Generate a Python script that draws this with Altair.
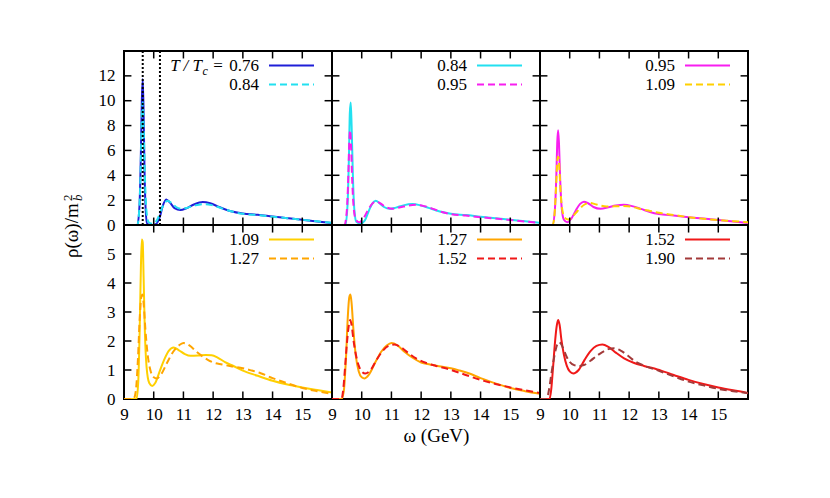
import altair as alt
import pandas as pd

FONT = "Liberation Serif"

# ---------------- data ----------------
W076 = [9.0, 9.45, 9.52, 9.57, 9.60, 9.63, 9.66, 9.69, 9.73, 9.78, 9.9, 10.05, 10.2, 10.3, 10.42, 10.55, 10.7, 10.9, 11.1, 11.35, 11.65, 11.9, 12.2, 12.6, 13.0, 13.5, 14.0, 14.5, 15.0, 15.5, 16.0]
R076 = [0, 0, 1.5, 6.0, 10.0, 11.75, 9.0, 4.5, 1.2, 0.1, 0.0, 0.05, 0.6, 1.5, 2.05, 1.8, 1.35, 1.2, 1.35, 1.65, 1.85, 1.75, 1.45, 1.1, 0.92, 0.82, 0.68, 0.55, 0.42, 0.29, 0.16]

W084 = [9.0, 9.45, 9.52, 9.57, 9.60, 9.63, 9.66, 9.70, 9.75, 9.82, 9.95, 10.1, 10.25, 10.35, 10.47, 10.6, 10.75, 10.95, 11.15, 11.4, 11.7, 11.95, 12.25, 12.6, 13.0, 13.5, 14.0, 14.5, 15.0, 15.5, 16.0]
R084 = [0, 0, 1.5, 5.5, 9.0, 9.85, 8.0, 4.2, 1.3, 0.25, 0.1, 0.35, 1.2, 1.7, 1.95, 1.75, 1.45, 1.3, 1.4, 1.58, 1.68, 1.6, 1.38, 1.1, 0.9, 0.8, 0.67, 0.55, 0.42, 0.3, 0.17]

W095 = [9.0, 9.42, 9.50, 9.55, 9.58, 9.61, 9.64, 9.68, 9.73, 9.8, 9.92, 10.05, 10.2, 10.35, 10.48, 10.62, 10.8, 11.04, 11.3, 11.55, 11.82, 12.1, 12.4, 12.7, 13.0, 13.5, 14.0, 14.5, 15.0, 15.5, 16.0]
R095 = [0, 0, 1.2, 4.0, 6.6, 7.62, 6.5, 3.6, 1.4, 0.45, 0.22, 0.5, 1.15, 1.7, 1.88, 1.75, 1.45, 1.31, 1.42, 1.56, 1.62, 1.52, 1.3, 1.05, 0.88, 0.76, 0.63, 0.52, 0.40, 0.28, 0.16]

W109 = [9.0, 9.42, 9.48, 9.53, 9.57, 9.60, 9.63, 9.66, 9.70, 9.76, 9.85, 9.95, 10.05, 10.2, 10.35, 10.5, 10.67, 10.85, 11.05, 11.24, 11.5, 11.75, 11.95, 12.15, 12.4, 12.7, 13.0, 13.5, 14.0, 14.5, 15.0, 15.5, 16.0]
R109 = [0, 0, 0.6, 2.5, 4.6, 5.5, 5.4, 4.2, 2.4, 1.1, 0.55, 0.45, 0.55, 0.95, 1.35, 1.65, 1.78, 1.68, 1.55, 1.49, 1.5, 1.52, 1.51, 1.43, 1.27, 1.13, 0.98, 0.8, 0.63, 0.5, 0.40, 0.31, 0.22]

W127 = [9.0, 9.32, 9.40, 9.47, 9.53, 9.58, 9.62, 9.66, 9.72, 9.8, 9.9, 10.0, 10.1, 10.25, 10.45, 10.65, 10.85, 11.0, 11.2, 11.45, 11.7, 12.0, 12.3, 12.6, 13.0, 13.3, 13.6, 14.0, 14.5, 15.0, 15.5, 16.0]
R127 = [0, 0, 0.3, 1.4, 2.8, 3.5, 3.6, 3.3, 2.4, 1.5, 0.95, 0.75, 0.71, 0.85, 1.25, 1.62, 1.85, 1.93, 1.85, 1.62, 1.43, 1.26, 1.19, 1.13, 1.06, 0.98, 0.89, 0.72, 0.54, 0.38, 0.27, 0.18]

W152 = [9.0, 9.32, 9.38, 9.44, 9.50, 9.56, 9.61, 9.66, 9.72, 9.8, 9.9, 10.0, 10.12, 10.3, 10.5, 10.7, 10.9, 11.1, 11.3, 11.55, 11.83, 12.15, 12.5, 12.95, 13.5, 14.0, 14.5, 15.0, 15.5, 16.0]
R152 = [0, 0, 0.35, 1.1, 1.9, 2.5, 2.72, 2.55, 2.05, 1.55, 1.15, 0.95, 0.88, 1.0, 1.35, 1.65, 1.83, 1.88, 1.80, 1.6, 1.40, 1.25, 1.14, 1.02, 0.83, 0.66, 0.52, 0.40, 0.30, 0.21]

W190 = [9.0, 9.22, 9.3, 9.38, 9.46, 9.54, 9.60, 9.65, 9.72, 9.8, 9.9, 10.0, 10.15, 10.3, 10.5, 10.7, 10.9, 11.1, 11.3, 11.5, 11.7, 11.95, 12.2, 12.5, 13.0, 13.5, 14.0, 14.5, 15.0, 15.5, 16.0]
R190 = [0, 0, 0.3, 0.85, 1.35, 1.75, 1.93, 1.96, 1.88, 1.7, 1.45, 1.28, 1.17, 1.14, 1.18, 1.32, 1.48, 1.62, 1.72, 1.75, 1.68, 1.5, 1.3, 1.15, 0.97, 0.78, 0.6, 0.47, 0.35, 0.27, 0.2]

CURVES = {
    "0.76": (W076, R076),
    "0.84": (W084, R084),
    "0.95": (W095, R095),
    "1.09": (W109, R109),
    "1.27": (W127, R127),
    "1.52": (W152, R152),
    "1.90": (W190, R190),
}

# panel contents: (solid temperature, dashed temperature)
PANELS = [("0.76", "0.84"), ("0.84", "0.95"), ("0.95", "1.09"),
          ("1.09", "1.27"), ("1.27", "1.52"), ("1.52", "1.90")]

XDOM = [9, 16]
YDOM_TOP = [0, 14]
YDOM_BOT = [0, 6]
XLABELS = [9, 10, 11, 12, 13, 14, 15]
XTICKS = [10, 11, 12, 13, 14, 15]
YLABELS_TOP = [0, 2, 4, 6, 8, 10, 12]
YTICKS_TOP = [2, 4, 6, 8, 10, 12]
YLABELS_BOT = [0, 1, 2, 3, 4, 5]
YTICKS_BOT = [1, 2, 3, 4, 5]
DOTTED = [9.63, 10.21]

# ---------------- styles ----------------
COLORS = {"0.76": "#1f1fd8", "0.84": "#22e0f0", "0.95": "#f81ef0",
          "1.09": "#ffd000", "1.27": "#ffa500", "1.52": "#f01818",
          "1.90": "#a33a3a"}
PW, PH = 208, 174
TICK_X = 0.25
TICK_Y = {0: 0.6, 1: 0.26}
DASH = [7, 4]
LEG_FS = 17
LEG_ROW = 19


def one(text):
    return pd.DataFrame({"t": [text]})


def panel(i):
    row, col = divmod(i, 3)
    ydom = YDOM_TOP if row == 0 else YDOM_BOT
    ylab = YLABELS_TOP if row == 0 else YLABELS_BOT
    yt = YTICKS_TOP if row == 0 else YTICKS_BOT
    ylen = TICK_Y[row]

    xaxis = None
    if row == 1:
        xaxis = alt.Axis(values=XLABELS, title=("ω (GeV)" if col == 1 else ""),
                         ticks=False, domain=False, grid=False,
                         labelFont=FONT, labelFontSize=17, labelColor="black",
                         labelPadding=7, labelFlush=False, labelOverlap=False,
                         titleFont=FONT, titleFontSize=19, titleColor="black",
                         titleFontWeight="normal", titlePadding=4)
    yaxis = None
    if col == 0:
        yaxis = alt.Axis(values=ylab, title="", ticks=False, domain=False, grid=False,
                         labelFont=FONT, labelFontSize=17, labelColor="black",
                         labelPadding=9, labelFlush=False, labelOverlap=False)
    xs = alt.Scale(domain=XDOM, nice=False, zero=False)
    ys = alt.Scale(domain=ydom, nice=False, zero=False)

    def X(f):
        return alt.X(f, type="quantitative", scale=xs, axis=xaxis)

    def Y(f):
        return alt.Y(f, type="quantitative", scale=ys, axis=yaxis)

    solid, dashed = PANELS[i]
    layers = []
    ws, rs = CURVES[solid]
    layers.append(alt.Chart(pd.DataFrame({"w": ws, "rho": rs})).mark_line(
        color=COLORS[solid], strokeWidth=2, clip=True, interpolate="monotone"
    ).encode(x=X("w"), y=Y("rho")))
    wd, rd = CURVES[dashed]
    layers.append(alt.Chart(pd.DataFrame({"w": wd, "rho": rd})).mark_line(
        color=COLORS[dashed], strokeWidth=2, strokeDash=DASH, clip=True,
        interpolate="monotone"
    ).encode(x=X("w"), y=Y("rho")))

    if i == 0:
        dd = pd.DataFrame({"w": DOTTED, "a": [ydom[0]] * 2, "b": [ydom[1]] * 2})
        layers.append(alt.Chart(dd).mark_rule(color="black", strokeWidth=2,
                                              strokeDash=[2, 2]).encode(
            x=X("w"), y=Y("a"), y2=alt.Y2("b")))

    # inward ticks on all four sides
    xb = pd.DataFrame({"w": XTICKS, "a": [ydom[0]] * len(XTICKS),
                       "b": [ydom[0] + ylen] * len(XTICKS)})
    xt = pd.DataFrame({"w": XTICKS, "a": [ydom[1] - ylen] * len(XTICKS),
                       "b": [ydom[1]] * len(XTICKS)})
    yl = pd.DataFrame({"rho": yt, "a": [XDOM[0]] * len(yt),
                       "b": [XDOM[0] + TICK_X] * len(yt)})
    yr = pd.DataFrame({"rho": yt, "a": [XDOM[1] - TICK_X] * len(yt),
                       "b": [XDOM[1]] * len(yt)})
    for d in (xb, xt):
        layers.append(alt.Chart(d).mark_rule(color="black", strokeWidth=1.5).encode(
            x=X("w"), y=Y("a"), y2=alt.Y2("b")))
    for d in (yl, yr):
        layers.append(alt.Chart(d).mark_rule(color="black", strokeWidth=1.5).encode(
            y=Y("rho"), x=X("a"), x2=alt.X2("b")))

    # legend
    for k, (temp, dash) in enumerate([(solid, None), (dashed, DASH)]):
        ly = 14.5 + LEG_ROW * k
        layers.append(alt.Chart(one(temp)).mark_text(
            font=FONT, fontSize=LEG_FS, align="right", baseline="alphabetic",
            color="black"
        ).encode(x=alt.value(135), y=alt.value(ly + 5), text="t:N"))
        kw = dict(color=COLORS[temp], strokeWidth=2)
        if dash:
            kw["strokeDash"] = dash
        layers.append(alt.Chart(one(temp)).mark_rule(**kw).encode(
            x=alt.value(145), x2=alt.value(190), y=alt.value(ly)))

    if i == 0:
        layers.append(alt.Chart(one("=")).mark_text(
            font=FONT, fontSize=LEG_FS, align="center", baseline="alphabetic",
            color="black"
        ).encode(x=alt.value(94), y=alt.value(19.5), text="t:N"))
        layers.append(alt.Chart(one("T / T")).mark_text(
            font=FONT, fontSize=LEG_FS, fontStyle="italic", align="right",
            baseline="alphabetic", color="black"
        ).encode(x=alt.value(78), y=alt.value(19.5), text="t:N"))
        layers.append(alt.Chart(one("c")).mark_text(
            font=FONT, fontSize=12, fontStyle="italic", align="left",
            baseline="alphabetic", color="black"
        ).encode(x=alt.value(78.5), y=alt.value(23.5), text="t:N"))
        # y-axis title rho(omega)/m_b^2 spanning both rows
        layers.append(alt.Chart(one("ρ(ω)/m")).mark_text(
            font=FONT, fontSize=19, angle=270, align="left", baseline="alphabetic",
            color="black"
        ).encode(x=alt.value(-46), y=alt.value(207), text="t:N"))
        layers.append(alt.Chart(one("2")).mark_text(
            font=FONT, fontSize=13, angle=270, align="left", baseline="alphabetic",
            color="black"
        ).encode(x=alt.value(-52), y=alt.value(150), text="t:N"))
        layers.append(alt.Chart(one("b")).mark_text(
            font=FONT, fontSize=13, fontStyle="italic", angle=270, align="left",
            baseline="alphabetic", color="black"
        ).encode(x=alt.value(-42), y=alt.value(150), text="t:N"))

    return alt.layer(*layers).properties(width=PW, height=PH)


chart = alt.concat(*[panel(i) for i in range(6)], columns=3, spacing=0,
                   bounds="flush").properties(
    padding={"left": 53, "top": 41, "right": 5, "bottom": 5},
    background="white",
).configure_view(stroke="black", strokeWidth=2)

chart.save("out.html", embed_options={"renderer": "svg", "actions": False})
